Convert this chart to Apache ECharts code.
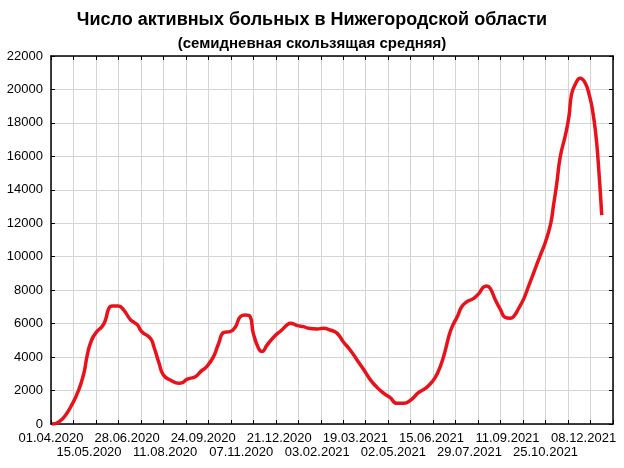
<!DOCTYPE html>
<html>
<head>
<meta charset="utf-8">
<script src="https://cdn.jsdelivr.net/npm/echarts@6/dist/echarts.min.js"></script>
<style>
html,body{margin:0;padding:0;background:#fff;}
#chart{width:624px;height:468px;}
</style>
</head>
<body>
<div id="chart"></div>
<script>
const titleText = 'Число активных больных в Нижегородской области';
const subtitleText = '(семидневная скользящая средняя)';
const startDate = '2020-04-01';
const dates = [
  '2020-04-02','2020-04-04','2020-04-12','2020-04-18','2020-04-25','2020-05-03','2020-05-09','2020-05-13',
  '2020-05-18','2020-05-24','2020-05-30','2020-06-03','2020-06-07','2020-06-11','2020-06-18','2020-06-24',
  '2020-07-02','2020-07-06','2020-07-10','2020-07-15','2020-07-25','2020-07-29','2020-08-04','2020-08-09',
  '2020-08-17','2020-08-27','2020-08-31','2020-09-05','2020-09-15','2020-09-21','2020-09-28','2020-10-06',
  '2020-10-12','2020-10-18','2020-10-25','2020-10-31','2020-11-06','2020-11-12','2020-11-17','2020-11-21',
  '2020-11-27','2020-12-01','2020-12-07','2020-12-15','2020-12-24','2020-12-30','2021-01-03','2021-01-11',
  '2021-01-18','2021-01-24','2021-02-03','2021-02-10','2021-02-18','2021-02-26','2021-03-05','2021-03-13',
  '2021-03-21','2021-03-29','2021-04-05','2021-04-13','2021-04-21','2021-04-28','2021-05-06','2021-05-14',
  '2021-05-22','2021-05-31','2021-06-08','2021-06-16','2021-06-22','2021-06-29','2021-07-05','2021-07-09',
  '2021-07-15','2021-07-20','2021-07-26','2021-08-03','2021-08-09','2021-08-14','2021-08-18','2021-08-22',
  '2021-08-28','2021-09-03','2021-09-08','2021-09-14','2021-09-18','2021-09-24','2021-09-30','2021-10-04',
  '2021-10-11','2021-10-19','2021-10-25','2021-10-31','2021-11-03','2021-11-07','2021-11-11','2021-11-17',
  '2021-11-21','2021-11-24','2021-11-28','2021-12-04','2021-12-10','2021-12-15','2021-12-18','2021-12-22',
  '2021-12-25','2021-12-29'
];
const activeCases = [
  10,0,200,540,1140,2030,3030,4130,
  5020,5520,5820,6220,6920,7050,7050,6820,
  6220,6080,5920,5520,5120,4620,3630,2930,
  2630,2430,2470,2670,2830,3130,3430,4030,
  4830,5480,5520,5780,6420,6520,6450,5420,
  4530,4330,4730,5220,5620,5920,6020,5880,
  5820,5720,5680,5720,5620,5420,4920,4420,
  3830,3230,2670,2190,1830,1590,1240,1240,
  1430,1870,2130,2530,3030,4020,5220,5820,
  6420,7010,7310,7510,7810,8170,8250,8110,
  7410,6820,6380,6320,6420,6920,7510,8050,
  9010,10100,10900,12000,13000,14390,15980,17280,
  18370,19700,20270,20670,20370,19570,18870,17380,
  15590,12490
];
const yTicks = [0,2000,4000,6000,8000,10000,12000,14000,16000,18000,20000,22000];
const xLabelStepDays = 44;
const xGridStepDays = 26;
const xSpanDays = 650;

const DAY = 86400000;
const t0 = Date.parse(startDate + 'T00:00:00Z');
function dayIndex(s){ return Math.round((Date.parse(s + 'T00:00:00Z') - t0) / DAY); }
function fmt(v){
  const d = new Date(t0 + v * DAY);
  const dd = String(d.getUTCDate()).padStart(2,'0');
  const mm = String(d.getUTCMonth()+1).padStart(2,'0');
  return dd + '.' + mm + '.' + d.getUTCFullYear();
}
const seriesData = dates.map((s,i) => [dayIndex(s), activeCases[i]]);
const FONT = '"Liberation Sans", Arial, sans-serif';

function labelAxis(row){
  return {type: 'value', min: 0, max: xSpanDays, interval: xLabelStepDays, position: 'bottom',
    axisLine: {show: false, onZero: false}, axisTick: {show: false}, splitLine: {show: false},
    axisLabel: {show: true, margin: 7, fontFamily: FONT, fontSize: 13, color: '#000', lineHeight: 14.5,
      showMinLabel: true, showMaxLabel: false, hideOverlap: false,
      formatter: function(v){
        const i = Math.round(v / xLabelStepDays);
        if (i % 2 !== row) return '';
        return row ? '\n' + fmt(v) : fmt(v);
      }}};
}

const chart = echarts.init(document.getElementById('chart'), null, {renderer:'canvas'});
chart.setOption({
  animation: false,
  backgroundColor: '#fff',
  title: [
    {text: titleText, left: 'center', top: 5,
     textStyle: {fontFamily: FONT, fontSize: 18, fontWeight: 'bold', color: '#000', lineHeight: 20}},
    {text: subtitleText, left: 'center', top: 31,
     textStyle: {fontFamily: FONT, fontSize: 15, fontWeight: 'bold', color: '#000', lineHeight: 16}}
  ],
  grid: {left: 51, right: 11, top: 56, bottom: 44, containLabel: false},
  xAxis: [
    {type: 'value', min: 0, max: xSpanDays, interval: xGridStepDays, position: 'bottom',
     axisLine: {show: true, onZero: false, lineStyle: {color: '#000', width: 1.5}},
     axisTick: {show: true, inside: true, length: 4, lineStyle: {color: '#000'}},
     axisLabel: {show: false},
     splitLine: {show: true, lineStyle: {color: '#d4d4d4', width: 1}}},
    labelAxis(0),
    labelAxis(1),
    {type: 'value', min: 0, max: xSpanDays, interval: xGridStepDays, position: 'top',
     axisLine: {show: true, onZero: false, lineStyle: {color: '#000', width: 1.5}},
     axisTick: {show: true, inside: true, length: 4, lineStyle: {color: '#000'}},
     axisLabel: {show: false}, splitLine: {show: false}}
  ],
  yAxis: [
    {type: 'value', min: yTicks[0], max: yTicks[yTicks.length-1], interval: yTicks[1]-yTicks[0], position: 'left',
     axisLine: {show: true, onZero: false, lineStyle: {color: '#000', width: 1.5}},
     axisTick: {show: true, inside: true, length: 4, lineStyle: {color: '#000'}},
     axisLabel: {show: true, margin: 8, fontFamily: FONT, fontSize: 13, color: '#000',
       formatter: function(v){ return String(v); }},
     splitLine: {show: true, lineStyle: {color: '#d4d4d4', width: 1}}},
    {type: 'value', min: yTicks[0], max: yTicks[yTicks.length-1], interval: yTicks[1]-yTicks[0], position: 'right',
     axisLine: {show: true, onZero: false, lineStyle: {color: '#000', width: 1.5}},
     axisTick: {show: true, inside: true, length: 4, lineStyle: {color: '#000'}},
     axisLabel: {show: false}, splitLine: {show: false}}
  ],
  series: [{
    type: 'line', xAxisIndex: 0, yAxisIndex: 0, data: seriesData,
    showSymbol: false, smooth: 0.5,
    lineStyle: {color: '#e8121b', width: 3.5},
    z: 5
  }]
});
</script>
</body>
</html>
